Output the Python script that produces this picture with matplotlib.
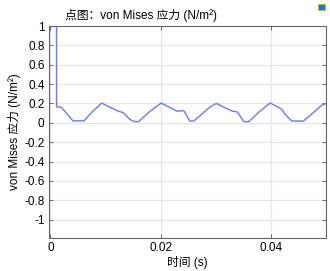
import matplotlib
matplotlib.use("Agg")
import matplotlib.pyplot as plt
from matplotlib.ticker import FuncFormatter
from matplotlib.patches import Rectangle

plt.rcParams['font.family'] = ['Liberation Sans', 'Noto Sans CJK SC', 'DejaVu Sans']
plt.rcParams['axes.unicode_minus'] = False

# 曲线上读出的点 (时间 s, 应力)
t = [0.00110, 0.00112, 0.0020, 0.0041, 0.0061, 0.0077, 0.0093, 0.0123, 0.0132,
     0.0144, 0.0153, 0.0160, 0.0181, 0.0201, 0.0230, 0.0242, 0.0253, 0.0260,
     0.0291, 0.0301, 0.0330, 0.0339, 0.0351, 0.0360, 0.0380, 0.0399, 0.0420,
     0.0426, 0.0438, 0.0459, 0.0476, 0.0493, 0.0500]
stress = [5.0, 0.165, 0.16, 0.02, 0.02, 0.12, 0.204, 0.12, 0.106,
          0.035, 0.012, 0.012, 0.12, 0.204, 0.12, 0.126, 0.018, 0.018,
          0.17, 0.2, 0.12, 0.113, 0.012, 0.012, 0.12, 0.204, 0.14,
          0.085, 0.018, 0.018, 0.10, 0.186, 0.197]

xticks = [0, 0.02, 0.04]
yticks = [-1, -0.8, -0.6, -0.4, -0.2, 0, 0.2, 0.4, 0.6, 0.8, 1]

fig = plt.figure(figsize=(3.3, 2.71), dpi=100)
ax = fig.add_axes([0.1476, 0.1218, 0.8404, 0.7822])

ax.plot(t, stress, color='#6b7bea', lw=1.0)

ax.set_xlim(-0.0003, 0.05)
ax.set_ylim(-1.19, 1.0)
ax.set_xticks(xticks)
ax.set_yticks(yticks)
fmt = FuncFormatter(lambda v, p: '%g' % round(v, 4))
ax.xaxis.set_major_formatter(fmt)
ax.yaxis.set_major_formatter(fmt)
ax.grid(True, color='#e6e6e6', lw=0.8)
ax.tick_params(direction='in', length=3, width=0.6, labelsize=8.5, pad=3,
               top=True, right=True, color='#555555')
for s in ax.spines.values():
    s.set_color('#666666')
    s.set_linewidth(0.8)

ax.set_xlabel('时间 (s)', fontsize=8.5, labelpad=1)
ax.set_ylabel('von Mises 应力 (N/m²)', fontsize=8.5, labelpad=2)
fig.text(0.197, 0.943, '点图：von Mises 应力 (N/m²)', fontsize=8.5,
         ha='left', va='center')

fig.patches.append(Rectangle((0.965, 0.963), 0.02, 0.024, transform=fig.transFigure,
                             facecolor='#2a6fd6', edgecolor='#c8b040', lw=0.6))

fig.savefig('out.png', dpi=100)
